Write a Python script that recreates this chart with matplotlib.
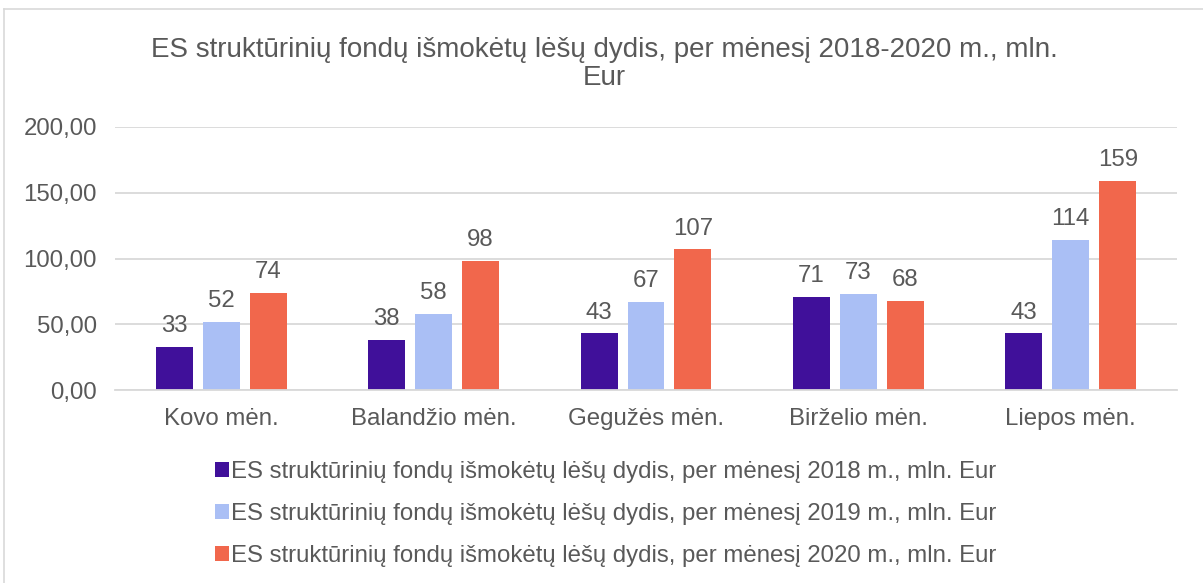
import matplotlib
matplotlib.use("Agg")
import matplotlib.pyplot as plt
import numpy as np
from matplotlib.patches import Patch
from matplotlib.lines import Line2D

categories = ["Kovo mėn.", "Balandžio mėn.", "Gegužės mėn.", "Birželio mėn.", "Liepos mėn."]
series_names = [
    "ES struktūrinių fondų išmokėtų lėšų dydis, per mėnesį 2018 m., mln. Eur",
    "ES struktūrinių fondų išmokėtų lėšų dydis, per mėnesį 2019 m., mln. Eur",
    "ES struktūrinių fondų išmokėtų lėšų dydis, per mėnesį 2020 m., mln. Eur",
]
v2018 = [33, 38, 43, 71, 43]
v2019 = [52, 58, 67, 73, 114]
v2020 = [74, 98, 107, 68, 159]
yticks = [0, 50, 100, 150, 200]
title = "ES struktūrinių fondų išmokėtų lėšų dydis, per mėnesį 2018-2020 m., mln.\nEur"

colors = ["#40109A", "#AABFF5", "#F1674C"]
text_col = "#595959"
grid_col = "#D9D9D9"
fs = 17.3

plt.rcParams['font.family'] = ['Liberation Sans', 'DejaVu Sans']

fig = plt.figure(figsize=(12.03, 5.83), dpi=100)
ax = fig.add_axes([115/1203, 1-390/583, (1177-115)/1203, (390-127)/583])

x = np.arange(len(categories))
width = 0.174
offs = [-0.221, 0.0, 0.221]
for vals, off, c in zip([v2018, v2019, v2020], offs, colors):
    bars = ax.bar(x + off, vals, width, color=c, zorder=3)
    for b, v in zip(bars, vals):
        ax.annotate(f"{v:.0f}", (b.get_x() + b.get_width()/2, v), xytext=(0, 7),
                    textcoords="offset points", ha="center", va="bottom",
                    fontsize=fs, color=text_col)

ax.set_xlim(-0.5, len(categories) - 0.5)
ax.set_ylim(0, 200)
ax.set_yticks(yticks)
ax.set_yticklabels([f"{t:.2f}".replace(".", ",") for t in yticks])
ax.set_xticks(x)
ax.set_xticklabels(categories)
ax.tick_params(axis="both", length=0, labelsize=fs, labelcolor=text_col)
ax.tick_params(axis="y", pad=13)
ax.tick_params(axis="x", pad=13)
for s in ["top", "right", "left"]:
    ax.spines[s].set_visible(False)
ax.spines["bottom"].set_color(grid_col)
ax.spines["bottom"].set_linewidth(1.3)
ax.spines["bottom"].set_zorder(4)
ax.yaxis.grid(True, color=grid_col, linewidth=1.3, zorder=0)
ax.set_axisbelow(True)

fig.text(604/1203, 1-37/583, title, ha="center", va="top", fontsize=20, color=text_col,
         linespacing=1.12)

handles = [Patch(facecolor=c, edgecolor="none") for c in colors]
leg = fig.legend(handles, series_names, loc="upper left", bbox_to_anchor=(205/1203, 1-451/583),
                 frameon=False, fontsize=fs, labelcolor=text_col, labelspacing=0.84,
                 handlelength=0.58, handleheight=0.58, handletextpad=0.12, borderaxespad=0)

fig.add_artist(Line2D([4/1203, 4/1203], [0, 1-9/583], color=grid_col, linewidth=1.2,
                      transform=fig.transFigure))
fig.add_artist(Line2D([4/1203, 1], [1-9/583, 1-9/583], color=grid_col, linewidth=1.2,
                      transform=fig.transFigure))

fig.savefig("out.png", dpi=100)
